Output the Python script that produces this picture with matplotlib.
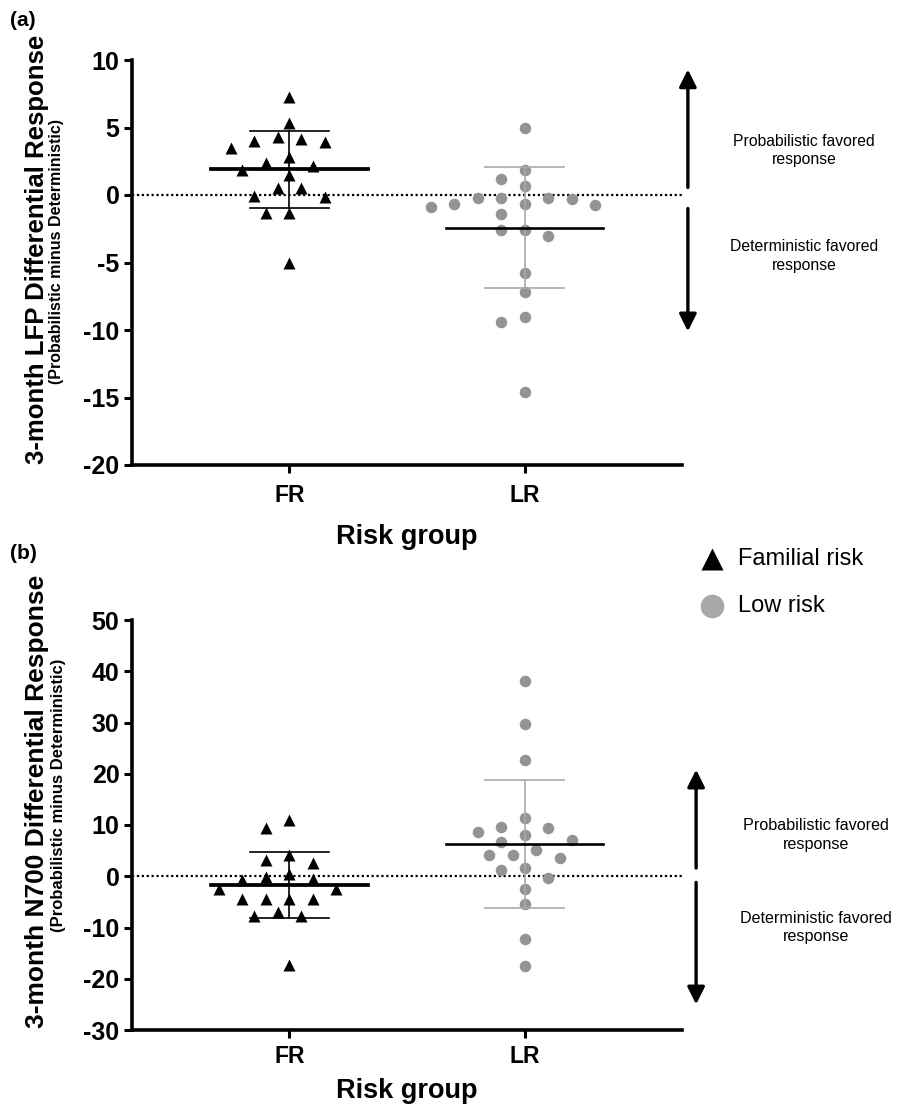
import numpy as np
import matplotlib
matplotlib.use('Agg')
import matplotlib.pyplot as plt
from matplotlib.lines import Line2D

plt.rcParams['font.family'] = ['Liberation Sans', 'DejaVu Sans']
plt.rcParams['axes.unicode_minus'] = False

# values
groups = ['FR', 'LR']
lfp_fr = [7.28, 5.37, 4.26, 3.96, 4.03, 4.13, 3.49, 2.84, 2.37, 2.15, 1.85, 1.50,
          0.53, 0.51, -0.16, -0.11, -1.33, -1.33, -5.05]
lfp_lr = [4.97, 1.82, 1.18, 0.68, -0.24, -0.33, -0.21, -0.19, -0.91, -0.71, -0.66,
          -0.66, -1.43, -2.59, -2.59, -3.01, -5.79, -7.16, -9.04, -9.43, -14.61]
n700_fr = [10.9, 9.4, 4.1, 3.25, 2.6, -0.13, 0.39, -0.78, -0.58, -2.4, -2.4, -4.35,
           -4.42, -4.35, -4.48, -6.9, -7.8, -7.8, -17.35]
n700_lr = [38.1, 29.8, 22.6, 11.4, 9.7, 9.4, 8.6, 8.05, 7.1, 6.75, 5.2, 4.1, 4.15,
           3.6, 1.3, 1.56, -0.25, -2.4, -5.46, -12.3, -17.5]

lfp_ticks = [-20, -15, -10, -5, 0, 5, 10]
n700_ticks = [-30, -20, -10, 0, 10, 20, 30, 40, 50]

W, H = 905, 1109


def fbox(x0, y0, x1, y1):
    return [x0 / W, 1 - y1 / H, (x1 - x0) / W, (y1 - y0) / H]


def fx(px):
    return px / W


def fy(py):
    return 1 - py / H


def swarm_x(ax, xc, vals, step=11.75, rx=23.0, ry=15.0):
    # greedy beeswarm, done in pixel space
    vals = np.asarray(vals, float)
    p0 = ax.transData.transform((0, 0))
    p1 = ax.transData.transform((1, 1))
    sx = p1[0] - p0[0]
    sy = p1[1] - p0[1]
    ypx = vals * sy
    xs = np.zeros(len(vals))
    placed = []
    seq = [0] + [s * k for k in range(1, 25) for s in (-1, 1)]
    for i in np.argsort(-vals, kind='stable'):
        for k in seq:
            xp = k * step
            if all(((xp - px) / rx) ** 2 + ((ypx[i] - py) / ry) ** 2 >= 1 for px, py in placed):
                break
        placed.append((xp, ypx[i]))
        xs[i] = xc + xp / sx
    return xs


def drawPanel(ax, fr, lr, ticks, arrows, texts, tsize, xpad, lpad):
    ax.set_xlim(-0.67, 1.67)
    ax.set_ylim(ticks[0], ticks[-1])
    ax.axhline(0, color='black', lw=1.6, ls=(0, (1, 1.2)), zorder=1)

    x_fr = swarm_x(ax, 0, fr)
    x_lr = swarm_x(ax, 1, lr)
    ax.plot(x_fr, fr, ls='none', marker='^', ms=8.6, color='black', mec='none', zorder=3)
    ax.plot(x_lr, lr, ls='none', marker='o', ms=8.3, color='#939393', mec='none', zorder=3)

    # mean +- SD
    for xc, vals, col, mlw in [(0, fr, 'black', 2.7), (1, lr, '#a9a9a9', 1.9)]:
        m = np.mean(vals)
        s = np.std(vals, ddof=1)
        ax.plot([xc, xc], [m - s, m + s], color=col, lw=1.2, zorder=4)
        ax.plot([xc - 0.167, xc + 0.167], [m + s, m + s], color=col, lw=1.2, zorder=4)
        ax.plot([xc - 0.167, xc + 0.167], [m - s, m - s], color=col, lw=1.2, zorder=4)
        ax.plot([xc - 0.333, xc + 0.333], [m, m], color='black', lw=mlw, zorder=5)

    ax.set_xticks([0, 1])
    ax.set_xticklabels(groups, fontsize=16.5, fontweight='bold')
    ax.set_yticks(ticks)
    ax.set_yticklabels([str(t) for t in ticks], fontsize=18, fontweight='bold')
    ax.tick_params(direction='out', length=6, width=2.2)
    ax.tick_params(axis='x', pad=xpad)
    ax.tick_params(axis='y', pad=3)
    for sp in ['top', 'right']:
        ax.spines[sp].set_visible(False)
    for sp in ['left', 'bottom']:
        ax.spines[sp].set_linewidth(2.6)
    ax.set_xlabel('Risk group', fontsize=19.5, fontweight='bold', labelpad=lpad)

    xa = arrows[0]
    for (y0, y1) in arrows[1:]:
        ax.annotate('', xy=(xa, y1), xytext=(xa, y0), xycoords='data',
                    arrowprops=dict(arrowstyle='-|>', lw=2.4, color='black',
                                    mutation_scale=26, shrinkA=0, shrinkB=0),
                    annotation_clip=False)
    tx = texts[0]
    for ty, s in texts[1:]:
        ax.text(tx, ty, s, ha='center', va='center', fontsize=tsize,
                linespacing=1.3, clip_on=False)


fig = plt.figure(figsize=(9.05, 11.09), dpi=100)
ax1 = fig.add_axes(fbox(132, 60, 682, 465))
ax2 = fig.add_axes(fbox(132, 620, 682, 1030))

drawPanel(ax1, lfp_fr, lfp_lr, lfp_ticks,
          [1.695, (0.56, 9.3), (-1.0, -10.1)],
          [2.19, (3.3, 'Probabilistic favored\nresponse'),
           (-4.5, 'Deterministic favored\nresponse')], 11.3, 8, 12)
drawPanel(ax2, n700_fr, n700_lr, n700_ticks,
          [1.73, (1.6, 20.8), (-1.2, -25.0)],
          [2.24, (8.0, 'Probabilistic favored\nresponse'),
           (-10.0, 'Deterministic favored\nresponse')], 11.6, 5, 7)

# y labels
fig.text(fx(37), fy(249), '3-month LFP Differential Response', rotation=90,
         ha='center', va='center', fontsize=18.5, fontweight='bold')
fig.text(fx(57), fy(252), '(Probabilistic minus Deterministic)', rotation=90,
         ha='center', va='center', fontsize=11.5, fontweight='bold')
fig.text(fx(37), fy(801), '3-month N700 Differential Response', rotation=90,
         ha='center', va='center', fontsize=19, fontweight='bold')
fig.text(fx(58), fy(795), '(Probabilistic minus Deterministic)', rotation=90,
         ha='center', va='center', fontsize=12, fontweight='bold')

fig.text(fx(10), fy(20), '(a)', fontsize=15, fontweight='bold', va='center')
fig.text(fx(10), fy(554), '(b)', fontsize=15, fontweight='bold', va='center')

# legend
fig.add_artist(Line2D([fx(712)], [fy(559)], transform=fig.transFigure, ls='none',
                      marker='^', ms=16, color='black', mec='none'))
fig.add_artist(Line2D([fx(712)], [fy(606)], transform=fig.transFigure, ls='none',
                      marker='o', ms=17, color='#a8a8a8', mec='none'))
fig.text(fx(738), fy(559), 'Familial risk', fontsize=17, va='center')
fig.text(fx(738), fy(606), 'Low risk', fontsize=17, va='center')

fig.savefig('out.png', dpi=100)
